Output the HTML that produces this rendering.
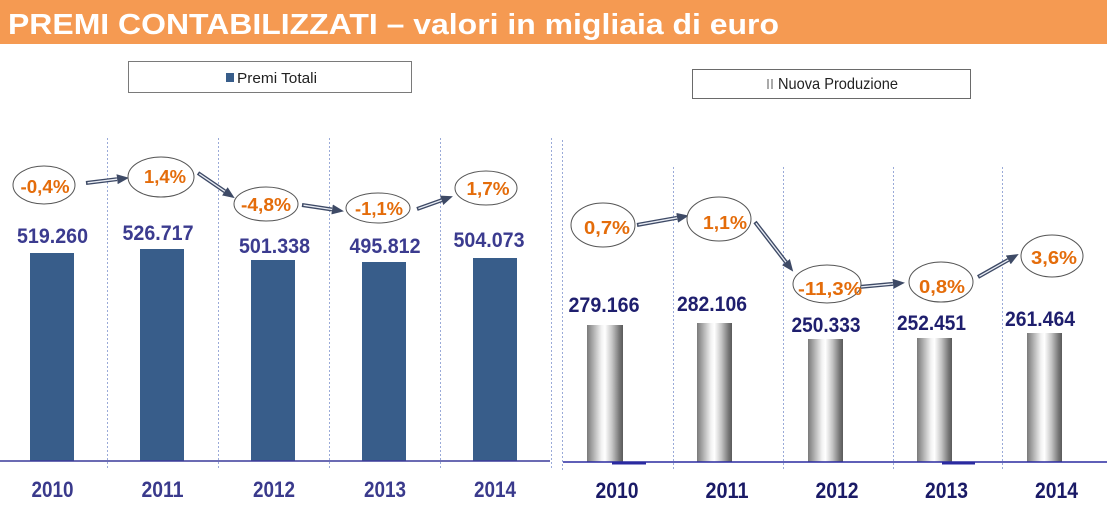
<!DOCTYPE html>
<html><head><meta charset="utf-8"><style>
html,body{margin:0;padding:0;background:#fff;}
svg{display:block;}
text{font-family:"Liberation Sans",sans-serif;}
</style></head><body>
<svg width="1107" height="522" viewBox="0 0 1107 522" xmlns="http://www.w3.org/2000/svg">
<defs>
<linearGradient id="cyl" x1="0" y1="0" x2="1" y2="0">
<stop offset="0" stop-color="#7a7a7a"/>
<stop offset="0.15" stop-color="#a6a6a6"/>
<stop offset="0.4" stop-color="#f2f2f2"/>
<stop offset="0.5" stop-color="#ffffff"/>
<stop offset="0.7" stop-color="#c4c4c4"/>
<stop offset="0.9" stop-color="#777777"/>
<stop offset="1" stop-color="#5a5a5a"/>
</linearGradient>
<marker id="ah" markerUnits="userSpaceOnUse" markerWidth="12" markerHeight="10" refX="0" refY="5" orient="auto">
<path d="M0,0 L12,5 L0,10 z" fill="#3e4a66"/>
</marker>
</defs>
<rect x="0" y="0" width="1107" height="44" fill="#F59A52"/>
<text x="8" y="34" font-size="29" font-weight="bold" fill="#ffffff" textLength="771" lengthAdjust="spacingAndGlyphs">PREMI CONTABILIZZATI – valori in migliaia di euro</text>

<!-- legends -->
<rect x="128.5" y="61.5" width="283" height="31" fill="#fff" stroke="#7a7a7a" stroke-width="1"/>
<rect x="226" y="73" width="8" height="9" fill="#385D8A"/>
<text x="237" y="83" font-size="15" fill="#222" textLength="80" lengthAdjust="spacingAndGlyphs">Premi Totali</text>
<rect x="692.5" y="69.5" width="278" height="29" fill="#fff" stroke="#6a6a6a" stroke-width="1"/>
<rect x="767" y="79" width="2" height="10" fill="#aaa"/>
<rect x="771" y="79" width="2" height="10" fill="#aaa"/>
<text x="778" y="89" font-size="16" fill="#222" textLength="120" lengthAdjust="spacingAndGlyphs">Nuova Produzione</text>

<!-- dotted gridlines -->
<g stroke="#9aaad8" stroke-width="1" stroke-dasharray="2,2">
<line x1="107.5" y1="138" x2="107.5" y2="470"/>
<line x1="218.5" y1="138" x2="218.5" y2="470"/>
<line x1="329.5" y1="138" x2="329.5" y2="470"/>
<line x1="440.5" y1="138" x2="440.5" y2="470"/>
<line x1="551.5" y1="138" x2="551.5" y2="470"/>
<line x1="562.5" y1="140" x2="562.5" y2="470"/>
<line x1="673.5" y1="167" x2="673.5" y2="470"/>
<line x1="783.5" y1="167" x2="783.5" y2="470"/>
<line x1="893.5" y1="167" x2="893.5" y2="470"/>
<line x1="1002.5" y1="167" x2="1002.5" y2="470"/>
</g>

<!-- left bars -->
<g fill="#385D8A">
<rect x="30" y="253" width="44" height="208"/>
<rect x="140" y="249" width="44" height="212"/>
<rect x="251" y="260" width="44" height="201"/>
<rect x="362" y="262" width="44" height="199"/>
<rect x="473" y="258" width="44" height="203"/>
</g>
<!-- right bars -->
<g fill="url(#cyl)">
<rect x="587" y="325" width="36" height="137"/>
<rect x="697" y="323" width="35" height="139"/>
<rect x="808" y="339" width="35" height="123"/>
<rect x="917" y="338" width="35" height="124"/>
<rect x="1027" y="333" width="35" height="129"/>
</g>

<!-- baselines -->
<line x1="0" y1="461" x2="550" y2="461" stroke="#3a3a9a" stroke-width="1.5"/>
<line x1="563" y1="462" x2="1107" y2="462" stroke="#2a2aa0" stroke-width="1.5"/>
<line x1="612" y1="463.5" x2="646" y2="463.5" stroke="#2a2aa0" stroke-width="2"/>
<line x1="942" y1="463.5" x2="975" y2="463.5" stroke="#2a2aa0" stroke-width="2"/>

<!-- left values -->
<g font-size="21" font-weight="bold" fill="#3B3B8F" text-anchor="middle">
<text x="52.5" y="243" textLength="71" lengthAdjust="spacingAndGlyphs">519.260</text>
<text x="158" y="240" textLength="71" lengthAdjust="spacingAndGlyphs">526.717</text>
<text x="274.5" y="253" textLength="71" lengthAdjust="spacingAndGlyphs">501.338</text>
<text x="385" y="253" textLength="71" lengthAdjust="spacingAndGlyphs">495.812</text>
<text x="489" y="247" textLength="71" lengthAdjust="spacingAndGlyphs">504.073</text>
</g>
<!-- right values -->
<g font-size="21" font-weight="bold" fill="#1F1F6E" text-anchor="middle">
<text x="604" y="312" textLength="71" lengthAdjust="spacingAndGlyphs">279.166</text>
<text x="712" y="311" textLength="70" lengthAdjust="spacingAndGlyphs">282.106</text>
<text x="826" y="332" textLength="69" lengthAdjust="spacingAndGlyphs">250.333</text>
<text x="931.5" y="330" textLength="69" lengthAdjust="spacingAndGlyphs">252.451</text>
<text x="1040" y="326" textLength="70" lengthAdjust="spacingAndGlyphs">261.464</text>
</g>

<!-- arrows -->
<g stroke-linecap="butt">
<g stroke="#3e4a66" stroke-width="4" marker-end="url(#ah)">
<line x1="86" y1="183" x2="117.1" y2="179.2"/>
<line x1="198" y1="173" x2="224.8" y2="191.3"/>
<line x1="302" y1="205" x2="332.1" y2="209.5"/>
<line x1="417" y1="209" x2="441.6" y2="200.3"/>
<line x1="637" y1="225" x2="677.1" y2="217.8"/>
<line x1="755" y1="222" x2="785.9" y2="262.1"/>
<line x1="859" y1="287" x2="893" y2="283.9"/>
<line x1="978" y1="277" x2="1008.3" y2="259.9"/>
</g>
<g stroke="#e8ecf4" stroke-width="1.3">
<line x1="87.5" y1="182.8" x2="117.1" y2="179.2"/>
<line x1="199.2" y1="173.8" x2="224.8" y2="191.3"/>
<line x1="303.5" y1="205.2" x2="332.1" y2="209.5"/>
<line x1="418.4" y1="208.5" x2="441.6" y2="200.3"/>
<line x1="638.5" y1="224.7" x2="677.1" y2="217.8"/>
<line x1="755.9" y1="223.2" x2="785.9" y2="262.1"/>
<line x1="860.5" y1="286.9" x2="893" y2="283.9"/>
<line x1="979.3" y1="276.3" x2="1008.3" y2="259.9"/>
</g>
</g>

<!-- ellipses -->
<g fill="#fff" stroke="#555" stroke-width="1">
<ellipse cx="44" cy="185" rx="31" ry="19"/>
<ellipse cx="161" cy="177" rx="33" ry="20"/>
<ellipse cx="266" cy="204" rx="32" ry="17"/>
<ellipse cx="378" cy="208" rx="32" ry="15"/>
<ellipse cx="486" cy="188" rx="31" ry="17"/>
<ellipse cx="603" cy="225" rx="32" ry="22"/>
<ellipse cx="719" cy="219" rx="32" ry="22"/>
<ellipse cx="827" cy="284" rx="34" ry="19"/>
<ellipse cx="941" cy="282" rx="32" ry="20"/>
<ellipse cx="1052" cy="256" rx="31" ry="21"/>
</g>
<g font-size="18" font-weight="bold" fill="#E46C0A" text-anchor="middle">
<text x="45" y="193" textLength="49" lengthAdjust="spacingAndGlyphs">-0,4%</text>
<text x="165" y="183" textLength="42" lengthAdjust="spacingAndGlyphs">1,4%</text>
<text x="266" y="211" textLength="50" lengthAdjust="spacingAndGlyphs">-4,8%</text>
<text x="379" y="215" textLength="48" lengthAdjust="spacingAndGlyphs">-1,1%</text>
<text x="488" y="195" textLength="43" lengthAdjust="spacingAndGlyphs">1,7%</text>
<text x="607" y="234" textLength="46" lengthAdjust="spacingAndGlyphs">0,7%</text>
<text x="725" y="229" textLength="44" lengthAdjust="spacingAndGlyphs">1,1%</text>
<text x="830" y="295" textLength="64" lengthAdjust="spacingAndGlyphs">-11,3%</text>
<text x="942" y="293" textLength="46" lengthAdjust="spacingAndGlyphs">0,8%</text>
<text x="1054" y="264" textLength="46" lengthAdjust="spacingAndGlyphs">3,6%</text>
</g>

<!-- years -->
<g font-size="22" font-weight="bold" fill="#3a3a8c" text-anchor="middle">
<text x="52.5" y="497" textLength="42" lengthAdjust="spacingAndGlyphs">2010</text>
<text x="162.5" y="497" textLength="42" lengthAdjust="spacingAndGlyphs">2011</text>
<text x="274" y="497" textLength="42" lengthAdjust="spacingAndGlyphs">2012</text>
<text x="385" y="497" textLength="42" lengthAdjust="spacingAndGlyphs">2013</text>
<text x="495" y="497" textLength="42" lengthAdjust="spacingAndGlyphs">2014</text>
</g>
<g font-size="22" font-weight="bold" fill="#1a1a66" text-anchor="middle">
<text x="617" y="498" textLength="43" lengthAdjust="spacingAndGlyphs">2010</text>
<text x="727" y="498" textLength="43" lengthAdjust="spacingAndGlyphs">2011</text>
<text x="837" y="498" textLength="43" lengthAdjust="spacingAndGlyphs">2012</text>
<text x="946.5" y="498" textLength="43" lengthAdjust="spacingAndGlyphs">2013</text>
<text x="1056.5" y="498" textLength="43" lengthAdjust="spacingAndGlyphs">2014</text>
</g>
</svg>
</body></html>
